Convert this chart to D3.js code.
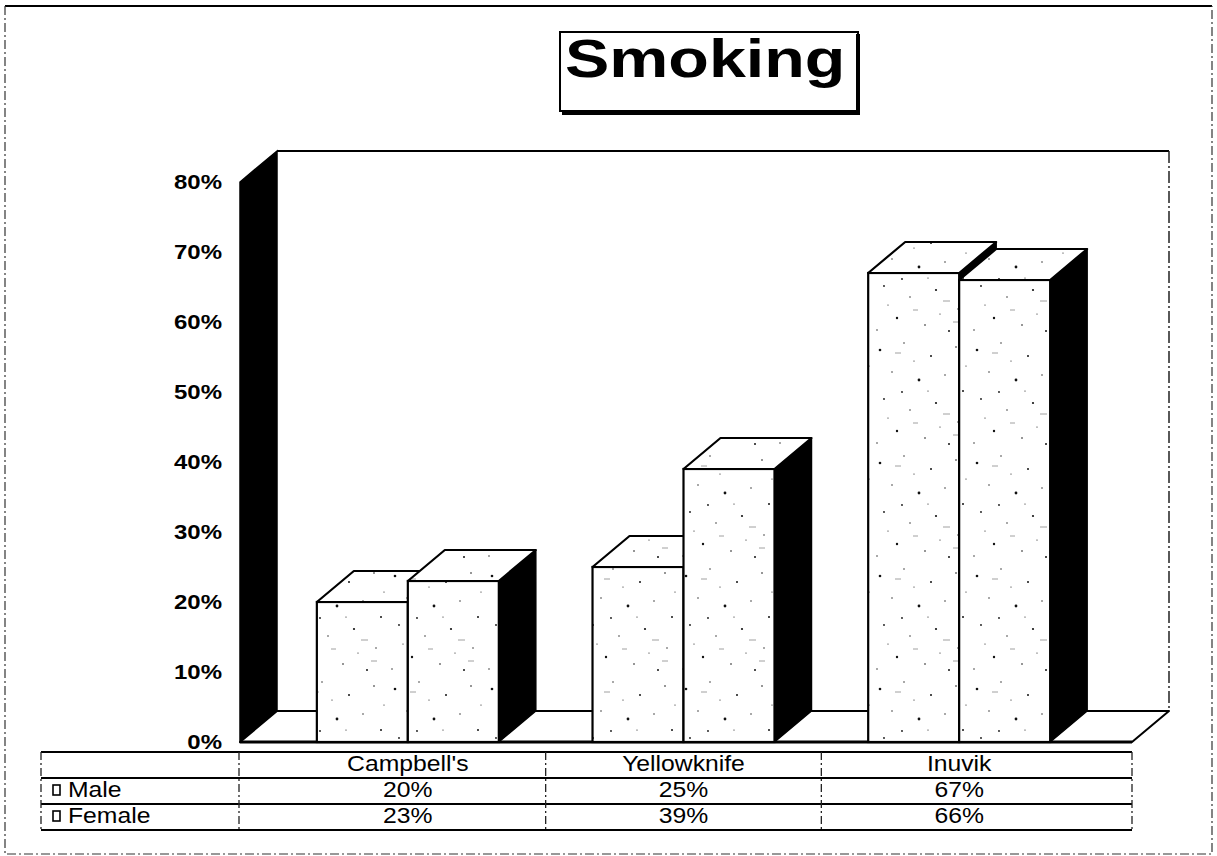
<!DOCTYPE html>
<html>
<head>
<meta charset="utf-8">
<script src="https://cdn.jsdelivr.net/npm/d3@7"></script>
<style>
  html, body { margin: 0; padding: 0; background: #fff; }
  svg { display: block; font-family: "Liberation Sans", Arial, sans-serif; }
</style>
</head>
<body>
<svg id="chart" width="1217" height="856"></svg>
<script>
// ---- data ----
const title = "Smoking";
const categories = ["Campbell's", "Yellowknife", "Inuvik"];
const seriesNames = ["Male", "Female"];
const maleValues = [0.20, 0.25, 0.67];
const femaleValues = [0.23, 0.39, 0.66];
const yTicks = [0, 0.1, 0.2, 0.3, 0.4, 0.5, 0.6, 0.7, 0.8];

const seriesValues = [maleValues, femaleValues];

// ---- layout ----
const svg = d3.select("#chart");
const DX = 37, DY = -31;           // 3D depth offset
const floorLeft = 240, floorRight = 1132;

const y = d3.scaleLinear().domain([0, 0.8]).range([742, 182]);
const x0 = d3.scaleBand().domain(categories).range([270, 1097]);
const x1 = d3.scaleBand().domain(seriesNames).range([0, x0.bandwidth()]).paddingInner(0).paddingOuter(0.515);

// stipple texture (decorative speckles)
const defs = svg.append("defs");
const pat = defs.append("pattern").attr("id", "stipple").attr("patternUnits", "userSpaceOnUse")
  .attr("width", 97).attr("height", 113);
pat.append("rect").attr("width", 97).attr("height", 113).attr("fill", "#fff");
const specks = [[7,11,1.3],[31,4,0.7],[58,17,1.0],[83,8,0.8],[19,33,0.7],[46,41,1.4],[72,36,0.7],[90,52,1.0],
  [11,60,0.9],[37,71,0.7],[63,64,1.1],[85,83,0.7],[24,92,1.2],[52,99,0.8],[76,105,1.0],[4,104,0.7],
  [41,22,0.6],[67,88,0.6],[15,79,0.6],[93,27,0.6],[55,52,0.6],[29,53,0.9]];
pat.selectAll("circle").data(specks).join("circle")
  .attr("cx", d => d[0]).attr("cy", d => d[1]).attr("r", d => d[2]).attr("fill", "#111");
pat.selectAll("line").data([[22,14,28,14],[70,75,77,75],[40,84,45,84],[80,96,86,96]]).join("line")
  .attr("x1", d => d[0]).attr("y1", d => d[1]).attr("x2", d => d[2]).attr("y2", d => d[3])
  .attr("stroke", "#888").attr("stroke-width", 0.8);

// outer frame
svg.append("line").attr("x1", 5).attr("x2", 1212).attr("y1", 6).attr("y2", 6)
  .attr("stroke", "#000").attr("stroke-width", 2);
svg.append("path").attr("d", "M5,6 V854 H1212 V6").attr("fill", "none")
  .attr("stroke", "#333").attr("stroke-width", 1.2).attr("stroke-dasharray", "9,3,2,3");

// title box with shadow
svg.append("rect").attr("x", 560).attr("y", 32).attr("width", 298).attr("height", 79)
  .attr("fill", "#fff").attr("stroke", "#000").attr("stroke-width", 2);
svg.append("path").attr("d", "M858,34 V113 H562").attr("fill", "none").attr("stroke", "#000").attr("stroke-width", 4);
svg.append("text").attr("transform", "translate(565,77) scale(1.23,1)")
  .attr("font-size", 54).attr("font-weight", "bold").attr("fill", "#000").text(title);

// back wall
const y0 = y(0), yMax = y(0.8);
svg.append("rect").attr("x", floorLeft + DX).attr("y", yMax + DY)
  .attr("width", floorRight - floorLeft).attr("height", y0 - yMax).attr("fill", "#fff");
svg.append("line").attr("x1", floorLeft + DX).attr("x2", floorRight + DX)
  .attr("y1", yMax + DY).attr("y2", yMax + DY).attr("stroke", "#000").attr("stroke-width", 2);
svg.append("line").attr("x1", floorRight + DX).attr("x2", floorRight + DX)
  .attr("y1", yMax + DY).attr("y2", y0 + DY).attr("stroke", "#222").attr("stroke-width", 1.5)
  .attr("stroke-dasharray", "12,3,2,3");

// left side wall (black)
svg.append("polygon")
  .attr("points", [[floorLeft, yMax], [floorLeft + DX, yMax + DY], [floorLeft + DX, y0 + DY], [floorLeft, y0]].join(" "))
  .attr("fill", "#000").attr("stroke", "#000").attr("stroke-width", 1.5);

// floor
svg.append("polygon")
  .attr("points", [[floorLeft, y0], [floorLeft + DX, y0 + DY], [floorRight + DX, y0 + DY], [floorRight, y0]].join(" "))
  .attr("fill", "#fff").attr("stroke", "#000").attr("stroke-width", 2).attr("stroke-linejoin", "round");
svg.append("line").attr("x1", floorLeft).attr("x2", floorRight).attr("y1", y0).attr("y2", y0)
  .attr("stroke", "#000").attr("stroke-width", 3);

// bars
const barsG = svg.append("g");
categories.forEach((c, i) => {
  seriesNames.forEach((s, j) => {
    const v = seriesValues[j][i];
    const x = x0(c) + x1(s), w = x1.bandwidth(), yt = y(v);
    const g = barsG.append("g");
    g.append("polygon")
      .attr("points", [[x + w, yt], [x + w + DX, yt + DY], [x + w + DX, y0 + DY], [x + w, y0]].join(" "))
      .attr("fill", "#000").attr("stroke", "#000").attr("stroke-width", 1.5).attr("stroke-linejoin", "round");
    g.append("rect").attr("x", x).attr("y", yt).attr("width", w).attr("height", y0 - yt)
      .attr("fill", "url(#stipple)").attr("stroke", "#000").attr("stroke-width", 2.2);
    g.append("polygon")
      .attr("points", [[x, yt], [x + DX, yt + DY], [x + w + DX, yt + DY], [x + w, yt]].join(" "))
      .attr("fill", "url(#stipple)").attr("stroke", "#000").attr("stroke-width", 2.2).attr("stroke-linejoin", "round");
  });
});

// y axis
const yAxis = d3.axisLeft(y).tickValues(yTicks).tickFormat(d3.format(".0%")).tickSize(0).tickPadding(0);
const axG = svg.append("g").attr("transform", "translate(222,0)").call(yAxis);
axG.select(".domain").remove();
axG.selectAll("text").attr("font-size", 20).attr("font-weight", "bold")
  .attr("font-family", "Liberation Sans, Arial, sans-serif").attr("fill", "#000")
  .attr("transform", "scale(1.2,1)");

// data table
const tLeft = 41, tRight = floorRight, rowTops = [752, 778, 804], tBottom = 830;
const tbl = svg.append("g");
[rowTops[0], rowTops[1], rowTops[2], tBottom].forEach(ry => {
  tbl.append("line").attr("x1", tLeft).attr("x2", tRight).attr("y1", ry).attr("y2", ry)
    .attr("stroke", "#000").attr("stroke-width", 2);
});
const vLines = [tLeft, 239, x0(categories[1]), x0(categories[2]), tRight];
vLines.forEach(vx => {
  tbl.append("line").attr("x1", vx).attr("x2", vx).attr("y1", rowTops[0]).attr("y2", tBottom)
    .attr("stroke", "#222").attr("stroke-width", 1.3).attr("stroke-dasharray", "8,3,2,3");
});
function tText(txt, cx, base, anchor) {
  tbl.append("text").attr("transform", `translate(${cx},${base}) scale(1.15,1)`)
    .attr("text-anchor", anchor).attr("font-size", 21.5).attr("fill", "#000").text(txt);
}
categories.forEach(c => tText(c, x0(c) + x0.bandwidth() / 2, rowTops[0] + 19, "middle"));
const fmt = d3.format(".0%");
seriesNames.forEach((s, j) => {
  const ry = rowTops[j + 1];
  tbl.append("rect").attr("x", 53).attr("y", ry + 7).attr("width", 7).attr("height", 10)
    .attr("fill", "#fff").attr("stroke", "#000").attr("stroke-width", 1.6);
  tText(s, 68, ry + 19, "start");
  categories.forEach((c, i) => tText(fmt(seriesValues[j][i]), x0(c) + x0.bandwidth() / 2, ry + 19, "middle"));
});
</script>
</body>
</html>
